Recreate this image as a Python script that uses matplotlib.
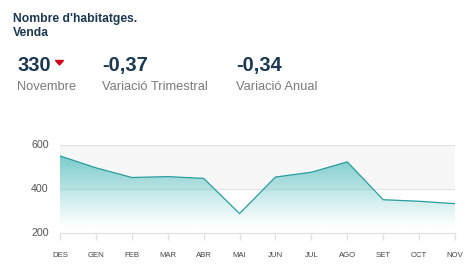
import matplotlib
matplotlib.use("Agg")
import matplotlib.pyplot as plt
import numpy as np
from matplotlib.patches import Polygon

plt.rcParams['font.family'] = ['Liberation Sans', 'DejaVu Sans']

months = ["DES", "GEN", "FEB", "MAR", "ABR", "MAI", "JUN", "JUL", "AGO", "SET", "OCT", "NOV"]
values = [548, 494, 450, 454, 446, 286, 452, 474, 521, 349, 342, 331]
yticks = [200, 400, 600]

title_lines = ["Nombre d'habitatges.", "Venda"]
kpi_values = ["330", "-0,37", "-0,34"]
kpi_labels = ["Novembre", "Variació Trimestral", "Variació Anual"]

W, H = 472, 278
fig = plt.figure(figsize=(W / 100, H / 100), dpi=100)
fig.patch.set_facecolor("white")

def fx(px):
    return px / W

def fy(py):
    return 1 - py / H

navy = "#1b3752"
gray = "#7a7a7a"

fig.text(fx(13), fy(19), title_lines[0], fontsize=8.7, fontweight="bold", color=navy, va="center", ha="left")
fig.text(fx(13), fy(33), title_lines[1], fontsize=8.7, fontweight="bold", color=navy, va="center", ha="left")

kx = [17, 102, 236]
for x, v, l in zip(kx, kpi_values, kpi_labels):
    fig.text(fx(x), fy(65.5), v, fontsize=14.5, fontweight="bold", color=navy, va="center", ha="left")
    fig.text(fx(x), fy(86.5), l, fontsize=9.3, color=gray, va="center", ha="left")

# red down triangle next to 330
fig.patches.append(Polygon([[fx(55.5), fy(60.5)], [fx(63.5), fy(60.5)], [fx(59.5), fy(65)]],
                           closed=True, transform=fig.transFigure, color="#d0021b"))

ax = fig.add_axes([fx(60), fy(232.5), (455 - 60) / W, (232.5 - 144.5) / H])
x = np.arange(len(months))
ax.set_xlim(0, len(months) - 1)
ax.set_ylim(200, 600)

ax.axhspan(400, 600, color="#f7f7f7", zorder=0, lw=0)
for yv in [400, 600]:
    ax.axhline(yv, color="#e4e4e4", lw=0.9, zorder=1)

# gradient fill
top, bottom = 560, 222
grad = np.linspace(1, 0, 256)
rgba = np.zeros((256, 1, 4))
base = np.array([0.40, 0.78, 0.78])
rgba[..., 0] = base[0]
rgba[..., 1] = base[1]
rgba[..., 2] = base[2]
rgba[..., 3] = (grad ** 1.1 * 0.9)[:, None]
im = ax.imshow(rgba, extent=[0, len(months) - 1, bottom, top], aspect="auto", zorder=2, origin="upper")
verts = [(0, bottom)] + list(zip(x, values)) + [(len(months) - 1, bottom)]
clip = Polygon(verts, closed=True, transform=ax.transData, facecolor="none", edgecolor="none")
ax.add_patch(clip)
im.set_clip_path(clip)

ax.plot(x, values, color="#2a9d9f", lw=0.9, zorder=3)

for s in ["top", "right", "left"]:
    ax.spines[s].set_visible(False)
ax.spines["bottom"].set_color("#e0e0e0")
ax.spines["bottom"].set_linewidth(0.9)

ax.set_yticks(yticks)
ax.set_yticklabels([str(t) for t in yticks], fontsize=7.7, color="#555555")
ax.tick_params(axis="y", length=0, pad=8)
ax.set_xticks(x)
ax.set_xticklabels(months, fontsize=5.6, color="#444444")
ax.tick_params(axis="x", length=5, color="#dddddd", width=0.9, pad=9)

fig.savefig("out.png", dpi=100, facecolor="white")
